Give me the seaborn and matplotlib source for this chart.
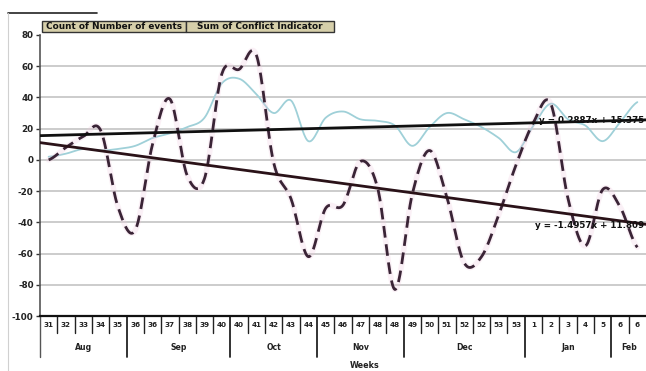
import numpy as np
import pandas as pd
import matplotlib
matplotlib.use("Agg")
import matplotlib.pyplot as plt
from matplotlib.patches import Rectangle
from matplotlib.lines import Line2D
import seaborn as sns

# ---- data -------------------------------------------------------------
months = ["Aug", "Sep", "Oct", "Nov", "Dec", "Jan", "Feb"]
month_weeks = [
    [31, 32, 33, 34, 35],
    [36, 36, 37, 38, 39, 40],
    [40, 41, 42, 43, 44],
    [45, 46, 47, 48, 48],
    [49, 50, 51, 52, 52, 53, 53],
    [1, 2, 3, 4, 5],
    [6, 6],
]
event_count = [2, 4, 7, 6, 7, 9, 14, 17, 21, 27,
               49, 52, 42, 30, 38, 12, 27, 31, 26, 25,
               22, 9, 21, 30, 26, 21, 14, 5, 22, 36,
               26, 22, 12, 24, 37]
conflict_sum = [0, 8, 15, 19, -30, -45, 10, 39, -10, -12,
                55, 58, 67, -2, -25, -62, -31, -29, -1, -18,
                -83, -22, 6, -24, -66, -62, -35, -3, 24, 36,
                -25, -55, -19, -30, -56]
series_names = ["Count of Number of events", "Sum of Conflict Indicator"]
count_trend = (0.2887, 15.375)      # slope, intercept
conflict_trend = (-1.4957, 11.809)  # slope, intercept
y_ticks = [80, 60, 40, 20, 0, -20, -40, -60, -80, -100]
x_title = "Weeks"

week_labels = [w for grp in month_weeks for w in grp]
n = len(week_labels)


def smooth(values, steps=24):
    """Catmull-Rom curve through the points (same shape as a smoothed line)."""
    p = np.asarray(values, float)
    ext = np.concatenate([[p[0]], p, [p[-1]]])
    xs, ys = [], []
    t = np.linspace(0, 1, steps, endpoint=False)
    for i in range(len(p) - 1):
        p0, p1, p2, p3 = ext[i:i + 4]
        y = 0.5 * (2 * p1 + (-p0 + p2) * t + (2 * p0 - 5 * p1 + 4 * p2 - p3) * t ** 2
                   + (-p0 + 3 * p1 - 3 * p2 + p3) * t ** 3)
        xs.append(i + t)
        ys.append(y)
    xs.append([len(p) - 1])
    ys.append([p[-1]])
    return np.concatenate(xs), np.concatenate(ys)


sns.set_theme(style="white")
plt.rcParams["font.family"] = ["DejaVu Sans"]

W, H = 646, 371
fig = plt.figure(figsize=(W / 100, H / 100), dpi=100)
ax = fig.add_axes([40 / W, 1 - 316 / H, 606 / W, (316 - 35) / H])

# grid
for v in y_ticks[1:-1]:
    ax.axhline(v, color="#c4c4c4", lw=1.2, zorder=0)

# count series (light teal)
cx, cy = smooth(event_count)
sns.lineplot(x=cx, y=cy, ax=ax, color="#9fd0d8", lw=1.3, zorder=2)

# conflict series (dark dashed with a faint pink edge)
sx, sy = smooth(conflict_sum)
sns.lineplot(x=sx, y=sy, ax=ax, color="#efc6dc", lw=4.0, alpha=0.25, zorder=2)
sns.lineplot(x=sx, y=sy, ax=ax, color="#3a2436", lw=2.0, zorder=3,
             linestyle=(0, (4.2, 2.4)))

# linear trendlines
tx = np.array([-0.5, n - 0.5])
for (m, b), col in [(count_trend, "#101010"), (conflict_trend, "#2a1218")]:
    sns.lineplot(x=tx, y=m * (tx + 1) + b, ax=ax, color=col, lw=2.0, zorder=4)

ax.text(n - 0.6, count_trend[0] * n + count_trend[1] - 0.5,
        f"y = {count_trend[0]:.4f}x + {count_trend[1]:.3f}",
        ha="right", va="center", fontsize=6.3, fontweight="bold", color="#111111", zorder=5)
ax.text(n - 0.6, -42,
        f"y = -{abs(conflict_trend[0]):.4f}x + {conflict_trend[1]:.3f}",
        ha="right", va="center", fontsize=6.3, fontweight="bold", color="#111111", zorder=5)

ax.set_xlim(-0.5, n - 0.5)
ax.set_ylim(-100, 80)
ax.set_yticks(y_ticks)
ax.set_yticklabels([str(v) for v in y_ticks], fontsize=6.3, fontweight="bold", color="#222222")
ax.tick_params(axis="y", direction="out", length=3, width=1, color="#333333", pad=1.5, left=True)
ax.set_xticks([])
ax.set_xlabel("")
ax.set_ylabel("")
for side in ["top", "right"]:
    ax.spines[side].set_visible(False)
ax.spines["left"].set_color("#555555")
ax.spines["left"].set_linewidth(1.2)
ax.spines["bottom"].set_color("#111111")
ax.spines["bottom"].set_linewidth(1.6)

# category axis: week labels, separators and month groups
tr = ax.get_xaxis_transform()
ah = (316 - 35)
short = -17 / ah
long_ = -41 / ah
for i, w in enumerate(week_labels):
    ax.text(i, -9 / ah, str(w), transform=tr, ha="center", va="center",
            fontsize=5.2, fontweight="bold", color="#222222", clip_on=False)
bounds = np.cumsum([0] + [len(g) for g in month_weeks])
for k in range(1, n):
    ln = long_ if k in bounds else short
    ax.add_line(Line2D([k - 0.5, k - 0.5], [0, ln], transform=tr, color="#222222",
                       lw=1.3 if k in bounds else 1.0, clip_on=False))
ax.add_line(Line2D([-0.5, -0.5], [0, long_], transform=tr, color="#555555", lw=1.0, clip_on=False))
for k, name in enumerate(months):
    mid = (bounds[k] + bounds[k + 1] - 1) / 2
    ax.text(mid, -31 / ah, name, transform=tr, ha="center", va="center",
            fontsize=5.6, fontweight="bold", color="#222222", clip_on=False)
fig.text(365 / W, 1 - 366 / H, x_title, ha="center", va="center",
         fontsize=5.8, fontweight="bold", color="#222222")

# field buttons
for (x0, x1), label in zip([(42, 186), (186, 334)], series_names):
    fig.add_artist(Rectangle((x0 / W, 1 - 32 / H), (x1 - x0) / W, 11 / H,
                             transform=fig.transFigure, facecolor="#d6cfaa",
                             edgecolor="#333333", lw=1.0))
    fig.text((x0 + x1) / 2 / W, 1 - 26.5 / H, label, ha="center", va="center",
             fontsize=6.4, fontweight="bold", color="#111111")

# chart frame fragments
fig.add_artist(Line2D([8 / W, 97 / W], [1 - 13 / H, 1 - 13 / H], transform=fig.transFigure,
                      color="#222222", lw=1.2))
fig.add_artist(Line2D([8 / W, 8 / W], [1 - 13 / H, 0], transform=fig.transFigure,
                      color="#d0d0d0", lw=0.8))

fig.savefig("out.png", dpi=100)
